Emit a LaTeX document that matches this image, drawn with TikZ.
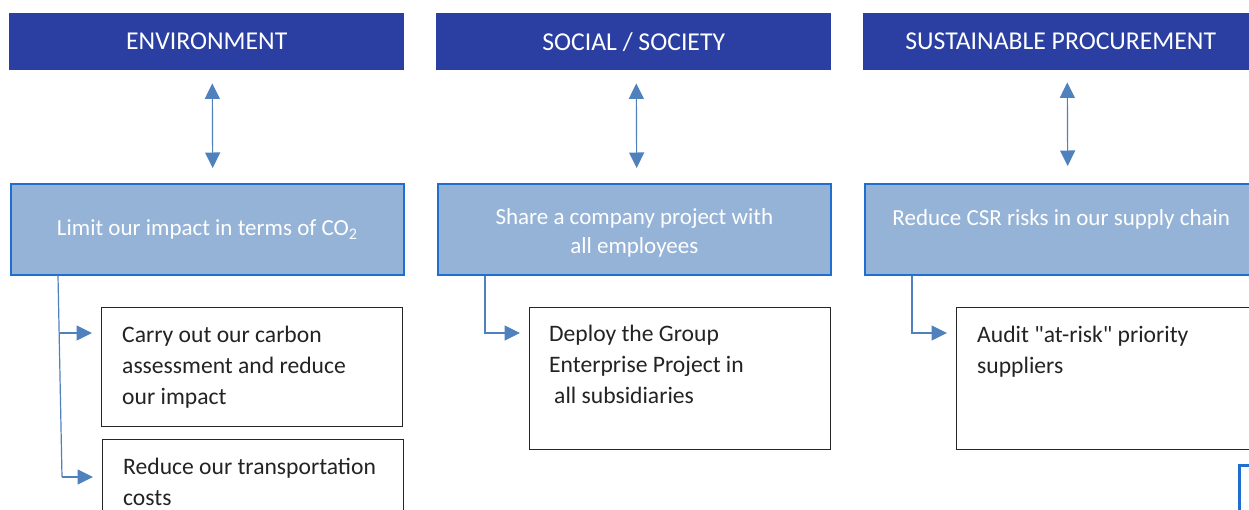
\documentclass[tikz,border=0pt]{standalone}
\usepackage{fontspec}
\setmainfont{Carlito}[Ligatures=TeXOff]
\usetikzlibrary{arrows.meta}
\definecolor{hdr}{RGB}{42,63,161}
\definecolor{bfill}{RGB}{149,179,215}
\definecolor{bline}{RGB}{31,112,206}
\definecolor{arr}{RGB}{79,129,189}
\definecolor{txt}{RGB}{35,35,35}
\tikzset{
  hdrbox/.style={fill=hdr, draw=none, minimum width=395pt, minimum height=57pt, inner sep=0pt,
    anchor=north west, text=white, font=\fontsize{25.7}{30}\selectfont},
  goalbox/.style={fill=bfill, draw=bline, line width=1.6pt, minimum width=393pt, minimum height=91pt,
    inner sep=0pt, anchor=north west},
  goaltext/.style={inner sep=0pt, text=white, align=center, font=\fontsize{23}{29}\selectfont},
  actbox/.style={draw=black!85, line width=1.3pt, fill=white, minimum width=301pt, inner sep=0pt, anchor=north west},
  acttext/.style={anchor=north west, inner sep=0pt, align=left, text=txt, font=\fontsize{23.6}{31}\selectfont},
  tipshape/.tip={Triangle[width=15pt,length=15.5pt]},
  dbl/.style={draw=arr, line width=1.2pt, tipshape-tipshape},
  conn/.style={draw=arr, line width=1.2pt},
  connarrow/.style={draw=arr, line width=1.2pt, -tipshape, shorten >=9pt},
}
\begin{document}
\begin{tikzpicture}[x=1pt,y=-1pt]
\useasboundingbox (0,0) rectangle (1249,509);
\clip (0,0) rectangle (1249,509);

% headers
\node[hdrbox] (h1) at (9,13) {ENVIRONMENT};
\node[hdrbox] (h2) at (436,13) {SOCIAL / SOCIETY};
\node[hdrbox] (h3) at (863,13) {SUSTAINABLE PROCUREMENT};

% goal boxes
\node[goalbox] (b1) at (10,183) {};
\node[goalbox] (b2) at (437,183) {};
\node[goalbox] (b3) at (864,183) {};
\node[goaltext] (g1) at (b1.center) {Limit our impact in terms of CO\textsubscript{2}};
\node[goaltext] (g2) at ([yshift=-4pt]b2.center) {Share a company project with\\all employees};
\node[goaltext] (g3) at ([yshift=9.5pt]b3.center) {Reduce CSR risks in our supply chain};

% double arrows
\draw[dbl, shorten <=13pt, shorten >=15pt] ([xshift=5.5pt]h1.south) -- ([xshift=5.5pt]b1.north);
\draw[dbl, shorten <=13pt, shorten >=15pt] ([xshift=2.5pt]h2.south) -- ([xshift=2.5pt]b2.north);
\draw[dbl, shorten <=12pt, shorten >=17pt] ([xshift=6.5pt]h3.south) -- ([xshift=6.5pt]b3.north);

% action boxes
\node[actbox, minimum height=119pt] (c1) at (101,307) {};
\node[actbox, minimum height=100pt] (c2) at (102,439) {};
\node[actbox, minimum height=142pt] (c3) at (529,307) {};
\node[actbox, minimum height=142pt] (c4) at (956,307) {};
\node[draw=bline, line width=3pt, anchor=north west, minimum width=80pt, minimum height=80pt, inner sep=0pt] (c5) at (1237.5,463.5) {};

% action texts
\node[acttext] (t1) at ([shift={(21,19)}]c1.north west) {Carry out our carbon\\assessment and reduce\\our impact};
\node[acttext] (t2) at ([shift={(21,19)}]c2.north west) {Reduce our transportation\\costs};
\node[acttext] (t3) at ([shift={(20,18)}]c3.north west) {Deploy the Group\\Enterprise Project in\\\hspace*{5pt}all subsidiaries};
\node[acttext] (t4) at ([shift={(21,18.5)}]c4.north west) {Audit "at-risk" priority\\suppliers};

% connectors
\coordinate (e0) at ([xshift=48pt]b1.south west);
\coordinate (e1) at (59.2,333);
\coordinate (e2) at (62,477);
\draw[conn] (e0) -- (e2);
\draw[connarrow] (e1) -- (e1 -| c1.west);
\draw[connarrow] (e2) -- (e2 -| c2.west);

\coordinate (s0) at ([xshift=48pt]b2.south west);
\coordinate (s1) at (s0 |- 0,333);
\draw[connarrow] (s0) -- (s1) -- (s1 -| c3.west);

\coordinate (p0) at ([xshift=48pt]b3.south west);
\coordinate (p1) at (p0 |- 0,333);
\draw[connarrow] (p0) -- (p1) -- (p1 -| c4.west);
\end{tikzpicture}
\end{document}
